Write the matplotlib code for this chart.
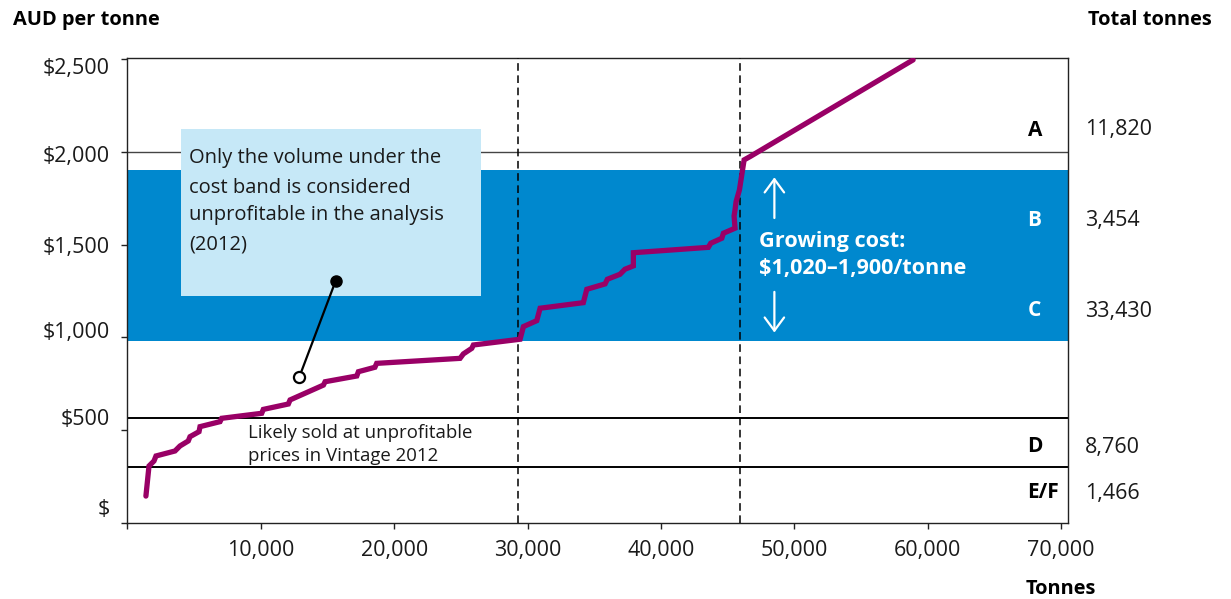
import matplotlib
matplotlib.use("Agg")
import matplotlib.pyplot as plt

plt.rcParams['font.family'] = ['Open Sans', 'DejaVu Sans']

# ---- data ----
tonnes = [1395, 1627, 2000, 2150, 3575, 3950, 4570, 4700, 5375, 5450, 6950, 7075,
          10075, 10195, 12070, 12200, 14700, 14825, 17200, 17320, 18560, 18690,
          24940, 25190, 25820, 25940, 29440, 29690, 30690, 30940, 34180, 34440,
          35810, 35980, 36930, 37300, 37930, 37930, 43550, 43730, 44560, 44680,
          45550, 45480, 45550, 45630, 45880, 46230, 46680, 58900]
price = [145, 307, 334, 361, 388, 415, 442, 465, 492, 519, 546, 564,
         591, 612, 641, 663, 743, 761, 792, 815, 839, 860,
         887, 911, 941, 959, 990, 1058, 1090, 1157, 1187, 1259,
         1288, 1313, 1340, 1367, 1385, 1456, 1485, 1507, 1534, 1561,
         1588, 1654, 1686, 1731, 1794, 1956, 1974, 2495]

y_ticks = [0, 500, 1000, 1500, 2000, 2500]
y_tick_labels = ['$', '$500', '$1,000', '$1,500', '$2,000', '$2,500']
x_ticks = [0, 10000, 20000, 30000, 40000, 50000, 60000, 70000]
x_tick_labels = ['', '10,000', '20,000', '30,000', '40,000', '50,000', '60,000', '70,000']

band_low, band_high = 980, 1900
threshold_lines = [2000, 567, 300]
dashed_x = [29290, 45920]

segment_names = ['A', 'B', 'C', 'D', 'E/F']
segment_totals = ['11,820', '3,454', '33,430', '8,760', '1,466']

W, H = 1231, 599
fig = plt.figure(figsize=(W / 100, H / 100), dpi=100)
L, R, T, B = 127.3, 1068.3, 58.0, 523.0
ax = fig.add_axes([L / W, 1 - B / H, (R - L) / W, (B - T) / H])
ax.set_xlim(0, 70530)
ax.set_ylim(0, 2505)

PURPLE = '#990066'
BLUE = '#0088CE'
LIGHT = '#C6E8F7'
TXT = '#1a1a1a'

def px(x, y):
    return x / W, 1 - y / H

# band
ax.axhspan(band_low, band_high, color=BLUE, zorder=1, lw=0)
# threshold lines
ax.axhline(threshold_lines[0], color='#444444', lw=1.0, zorder=1.5)
for v in threshold_lines[1:]:
    ax.axhline(v, color='black', lw=1.4, zorder=1.5)
# dashed verticals
for xv in dashed_x:
    ax.axvline(xv, color='black', lw=1.1, ls=(0, (5, 3)), zorder=3)

# curve
ax.plot(tonnes, price, color=PURPLE, lw=3.8, solid_capstyle='round',
        solid_joinstyle='miter', zorder=4)

# callout box
ax.add_patch(plt.Rectangle((4025, 1225), 26515 - 4025, 2123 - 1225,
                           facecolor=LIGHT, edgecolor='none', zorder=2))
callout_lines = ['Only the volume under the', 'cost band is considered',
                 'unprofitable in the analysis', '(2012)']
for txt, yb in zip(callout_lines, [1938, 1780, 1633, 1476]):
    ax.text(4625, yb, txt, fontsize=14.5, color=TXT, va='baseline', ha='left', zorder=5)

# pointer
ax.plot([15620, 12880], [1305, 784], color='black', lw=1.6, zorder=5)
ax.plot([15620], [1305], 'o', color='black', ms=8, zorder=6)
ax.plot([12880], [784], 'o', mfc='white', mec='black', mew=1.6, ms=8, zorder=6)

# likely sold text
ax.text(9080, 456, 'Likely sold at unprofitable', fontsize=13.4, color=TXT,
        va='baseline', ha='left', zorder=5)
ax.text(9080, 336, 'prices in Vintage 2012', fontsize=13.4, color=TXT,
        va='baseline', ha='left', zorder=5)

# growing cost
ax.text(47380, 1488, 'Growing cost:', fontsize=15.6, color='white', fontweight='bold',
        va='baseline', ha='left', zorder=5)
ax.text(47380, 1339, '$1,020–1,900/tonne', fontsize=15.6, color='white', fontweight='bold',
        va='baseline', ha='left', zorder=5)
arrow_style = '->,head_length=0.95,head_width=0.7'
ax.annotate('', xy=(48500, 1862), xytext=(48500, 1643),
            arrowprops=dict(arrowstyle=arrow_style, color='white', lw=1.6,
                            shrinkA=0, shrinkB=0),
            zorder=5)
ax.annotate('', xy=(48500, 1026), xytext=(48500, 1245),
            arrowprops=dict(arrowstyle=arrow_style, color='white', lw=1.6,
                            shrinkA=0, shrinkB=0),
            zorder=5)

# axes styling
for s in ax.spines.values():
    s.set_color('#222222')
    s.set_linewidth(1.0)
ax.set_xticks(x_ticks)
ax.set_xticklabels(x_tick_labels)
ax.set_yticks(y_ticks)
ax.set_yticklabels([])
ax.tick_params(axis='x', direction='out', length=4.5, width=1.0, color='#222222',
               labelsize=15.5, labelcolor=TXT, pad=8)
ax.tick_params(axis='y', direction='out', length=4.5, width=1.0, color='#222222')

# y tick labels (placed like reference)
for lab, yb in zip(y_tick_labels, [515, 425, 338, 253, 161.7, 74]):
    fig.text(*px(109.5, yb), lab, fontsize=15.5, color=TXT, ha='right', va='baseline')

# segment labels
seg_y = [128, 218, 309, 445, 491]
for name, tot, yc in zip(segment_names, segment_totals, seg_y):
    col = 'white' if name in ('B', 'C') else 'black'
    fig.text(*px(1027.5, yc + 7.5), name, fontsize=15, fontweight='bold', color=col,
             ha='left', va='baseline')
    fig.text(*px(1085, yc + 7.5), tot, fontsize=15.5, color=TXT, ha='left', va='baseline')

# titles
fig.text(*px(13.5, 25), 'AUD per tonne', fontsize=14.4, fontweight='bold', color='black',
         ha='left', va='baseline')
fig.text(*px(1212, 25), 'Total tonnes', fontsize=14.4, fontweight='bold', color='black',
         ha='right', va='baseline')
fig.text(*px(1061, 593.5), 'Tonnes', fontsize=14.4, fontweight='bold', color='black',
         ha='center', va='baseline')

fig.savefig('out.png', dpi=100)
